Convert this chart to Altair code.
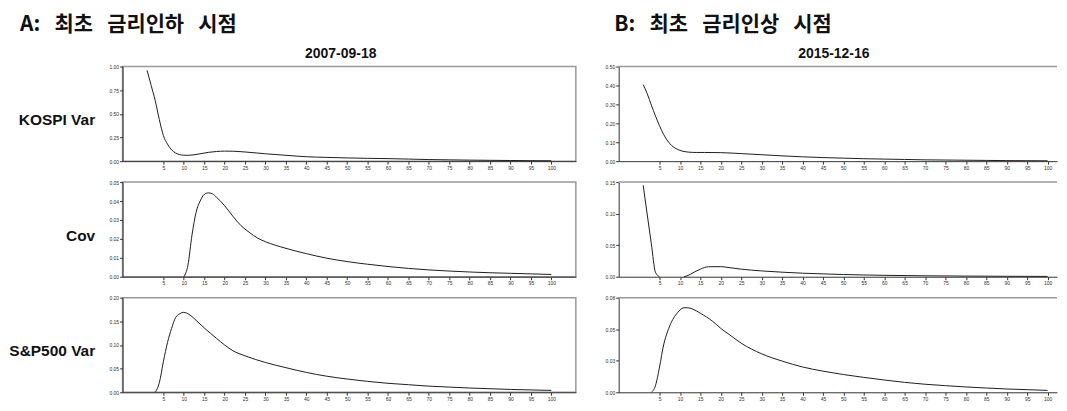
import altair as alt
import pandas as pd

# ---------------- data ----------------
x_ticks = [5, 10, 15, 20, 25, 30, 35, 40, 45, 50, 55, 60, 65, 70, 75, 80, 85, 90, 95, 100]

# A: 2007-09-18
a_kospi_lag = [1, 2, 3, 4, 5, 6, 7, 8, 9, 10, 11, 12, 14, 16, 18, 20, 22, 25, 28, 30, 35, 40, 45,
               50, 55, 60, 65, 70, 75, 80, 85, 90, 95, 100]
a_kospi_val = [0.96, 0.80, 0.64, 0.44, 0.27, 0.18, 0.12, 0.086, 0.069, 0.063, 0.062, 0.065, 0.078,
               0.093, 0.102, 0.106, 0.105, 0.097, 0.086, 0.078, 0.062, 0.047, 0.040, 0.034, 0.030,
               0.027, 0.022, 0.017, 0.014, 0.011, 0.009, 0.007, 0.005, 0.004]
a_kospi_ticks = [0.0, 0.25, 0.5, 0.75, 1.0]

a_cov_lag = [10, 11, 12, 13, 14, 15, 16, 17, 18, 20, 22, 24, 26, 28, 30, 35, 40, 45, 50, 55, 60,
             65, 70, 75, 80, 85, 90, 95, 100]
a_cov_val = [0.0, 0.006, 0.022, 0.034, 0.040, 0.0435, 0.0443, 0.0438, 0.042, 0.0375, 0.032, 0.027,
             0.0235, 0.0205, 0.0185, 0.015, 0.0122, 0.0098, 0.008, 0.0066, 0.0054, 0.0044, 0.0036,
             0.003, 0.0025, 0.0021, 0.0018, 0.0015, 0.0012]
a_cov_ticks = [0.0, 0.01, 0.02, 0.03, 0.04, 0.05]

a_sp_lag = [3, 4, 5, 6, 7, 8, 9, 10, 11, 12, 13, 15, 18, 20, 22, 25, 30, 35, 40, 45, 50, 55, 60,
            65, 70, 75, 80, 85, 90, 95, 100]
a_sp_val = [0.0, 0.02, 0.065, 0.105, 0.135, 0.158, 0.166, 0.169, 0.166, 0.160, 0.152, 0.136, 0.114,
            0.100, 0.088, 0.077, 0.063, 0.052, 0.042, 0.034, 0.028, 0.023, 0.019, 0.016, 0.013,
            0.011, 0.009, 0.0075, 0.006, 0.005, 0.004]
a_sp_ticks = [0.0, 0.05, 0.10, 0.15, 0.20]

# B: 2015-12-16
b_kospi_lag = [1, 2, 3, 4, 5, 6, 7, 8, 9, 10, 11, 12, 14, 16, 20, 25, 30, 35, 40, 45, 50, 55, 60,
               65, 70, 75, 80, 85, 90, 95, 100]
b_kospi_val = [0.404, 0.356, 0.296, 0.239, 0.187, 0.141, 0.107, 0.082, 0.067, 0.057, 0.051, 0.048,
               0.046, 0.046, 0.045, 0.040, 0.034, 0.028, 0.023, 0.019, 0.016, 0.013, 0.011, 0.009,
               0.007, 0.006, 0.005, 0.004, 0.003, 0.0025, 0.002]
b_kospi_ticks = [0.0, 0.1, 0.2, 0.3, 0.4, 0.5]

b_cov_lag = [1, 2, 3, 4, 5,
             11, 12, 13, 14, 15, 17, 20, 22, 25, 30, 35, 40, 45, 50, 55, 60, 70, 80, 90, 100]
b_cov_val = [0.145, 0.098, 0.052, 0.007, 0.0,
             0.0, 0.002, 0.0055, 0.009, 0.012, 0.0158, 0.016, 0.0145, 0.012, 0.0092, 0.0072,
             0.0056, 0.0045, 0.0035, 0.0028, 0.0022, 0.0015, 0.001, 0.0007, 0.0005]
b_cov_seg = [1, 1, 1, 1, 1,
             2, 2, 2, 2, 2, 2, 2, 2, 2, 2, 2, 2, 2, 2, 2, 2, 2, 2, 2, 2]
b_cov_ticks = [0.0, 0.05, 0.10, 0.15]

b_sp_lag = [3, 4, 5, 6, 7, 8, 9, 10, 11, 12, 13, 15, 18, 20, 22, 25, 30, 35, 40, 45, 50, 55, 60,
            65, 70, 75, 80, 85, 90, 95, 100]
b_sp_val = [0.0, 0.0055, 0.0214, 0.040, 0.0517, 0.060, 0.0655, 0.0695, 0.0715, 0.0714, 0.0705,
            0.0668, 0.060, 0.054, 0.049, 0.0415, 0.0325, 0.0264, 0.0214, 0.0179, 0.0150, 0.0126,
            0.0104, 0.0084, 0.0068, 0.0056, 0.0045, 0.0036, 0.0028, 0.0022, 0.0016]
b_sp_ticks = [0.0, 0.08 / 3, 0.16 / 3, 0.08]

row_labels = ["KOSPI Var", "Cov", "S&P500 Var"]
NB = "\u00a0\u00a0\u00a0"
col_titles = ["A:" + NB + "최초" + NB + "금리인하" + NB + "시점",
              "B:" + NB + "최초" + NB + "금리인상" + NB + "시점"]
dates = ["2007-09-18", "2015-12-16"]

# ---------------- layout ----------------
H = 95
VSP = 21
WA = 455
WB = 440
XMIN = -5
XMAX_A = 106
XMAX_B = 102.3


def panel(lags, vals, yticks, width, xmax, label=None, title=None, seg=None, open_right=False,
          title_dx=-8):
    df = pd.DataFrame({"lag": lags, "v": vals, "seg": seg if seg else [1] * len(lags)})
    yaxis_kw = dict(values=yticks, format=".2f", tickSize=3, labelPadding=1)
    if label:
        yaxis_kw.update(title=label, titleAngle=0, titleAlign="right", titleBaseline="middle",
                        titleX=-28, titleY=H / 2 + 6, titleFontSize=15.5, titleFontWeight="bold",
                        titleFont="Liberation Sans", titleColor="#111")
    else:
        yaxis_kw.update(title=None)
    line = alt.Chart(df).mark_line(color="#1e1e1e", strokeWidth=1, interpolate="monotone").encode(
        x=alt.X("lag:Q", scale=alt.Scale(domain=[XMIN, xmax], nice=False, zero=False),
                axis=alt.Axis(values=x_ticks, title=None, tickSize=3, labelPadding=1)),
        y=alt.Y("v:Q", scale=alt.Scale(domain=[0, yticks[-1]], nice=False),
                axis=alt.Axis(**yaxis_kw)),
        detail="seg:N",
    )
    props = dict(width=width, height=H)
    if title:
        props["title"] = alt.TitleParams(title, anchor="middle", fontSize=14, font="Liberation Sans",
                                         fontWeight="bold", color="#111", dx=title_dx, offset=4)
    if open_right:
        top_df = pd.DataFrame({"v": [yticks[-1]]})
        top = alt.Chart(top_df).mark_rule(color="#999", strokeWidth=1.5).encode(
            y=alt.Y("v:Q", axis=None))
        return alt.layer(line, top).resolve_axis(y="independent").properties(
            view=alt.ViewBackground(stroke="transparent"), **props)
    return line.properties(**props)


colA = alt.vconcat(
    panel(a_kospi_lag, a_kospi_val, a_kospi_ticks, WA, XMAX_A, row_labels[0], dates[0], title_dx=-8.5),
    panel(a_cov_lag, a_cov_val, a_cov_ticks, WA, XMAX_A, row_labels[1]),
    panel(a_sp_lag, a_sp_val, a_sp_ticks, WA, XMAX_A, row_labels[2]),
    spacing=VSP, bounds="flush",
    title=alt.TitleParams(col_titles[0], anchor="start", fontSize=21, font="Noto Sans CJK KR",
                          fontWeight="bold", color="#111", dx=12, offset=11),
)
colB = alt.vconcat(
    panel(b_kospi_lag, b_kospi_val, b_kospi_ticks, WB, XMAX_B, None, dates[1], open_right=True,
          title_dx=-4),
    panel(b_cov_lag, b_cov_val, b_cov_ticks, WB, XMAX_B, None, None, seg=b_cov_seg, open_right=True),
    panel(b_sp_lag, b_sp_val, b_sp_ticks, WB, XMAX_B, None, None, open_right=True),
    spacing=VSP, bounds="flush",
    title=alt.TitleParams(col_titles[1], anchor="start", fontSize=21, font="Noto Sans CJK KR",
                          fontWeight="bold", color="#111", dx=10, offset=11),
)

chart = alt.hconcat(colA, colB, spacing=27).properties(
    padding={"left": 0, "top": 5, "right": 0, "bottom": 0}
).configure_axis(
    labelFont="Liberation Sans", labelFontSize=5, labelColor="#333", tickColor="#333",
    domainColor="#333", domainWidth=1, tickWidth=1, grid=False, labelOverlap=False,
).configure_view(stroke="#999", strokeWidth=1.5)

chart.save("out.html", embed_options={"renderer": "svg", "actions": False})
